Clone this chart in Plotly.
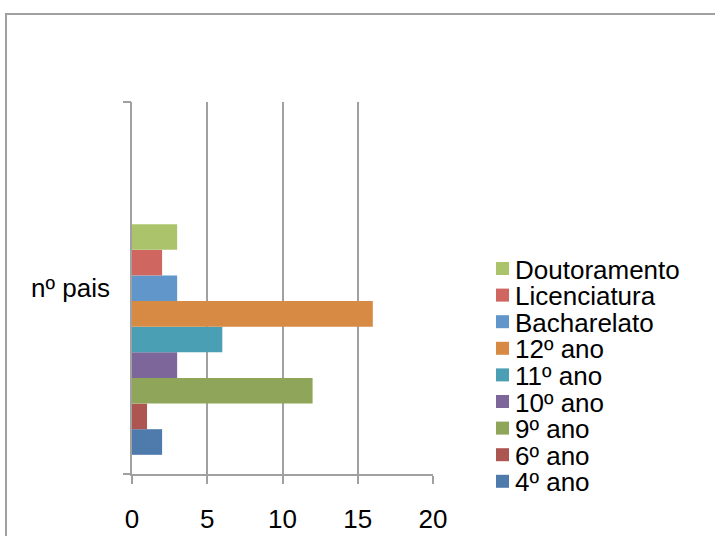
import plotly.graph_objects as go

category = ["nº pais"]
series_names = ["4º ano", "6º ano", "9º ano", "10º ano", "11º ano", "12º ano",
                "Bacharelato", "Licenciatura", "Doutoramento"]
series_values = [2, 1, 12, 3, 6, 16, 3, 2, 3]
series_colors = ["#4F7BAC", "#AD5551", "#8FA65A", "#7D6699", "#4A9FB4",
                 "#D78A44", "#6196CA", "#CF6660", "#ABC46C"]
x_ticks = [0, 5, 10, 15, 20]

FONT = "Liberation Sans, Arial, sans-serif"
FS = 26

fig = go.Figure()
for name, val, col in zip(series_names, series_values, series_colors):
    fig.add_trace(go.Bar(y=category, x=[val], name=name, orientation="h",
                         marker=dict(color=col, line=dict(width=0)),
                         showlegend=False, yaxis="y"))
# invisible trace carrying the category label axis (boundaries ticks)
fig.add_trace(go.Bar(y=category, x=[None], orientation="h", yaxis="y2",
                     showlegend=False, hoverinfo="skip"))

L, R, T, B = 132, 282, 102, 62
W, H = 715, 536
pw, ph = W - L - R, H - T - B


def px_x(px):
    return (px - L) / pw


def px_y(py):
    return (H - B - py) / ph


# bar group sits in lower part of the band, as in the original
grp_center_px = 339.5
lo = -(H - B - grp_center_px) / ph

# manual legend (Excel style: tight spacing), top entry = last series
leg_top = 268.5
leg_step = 26.6
shapes = []
annotations = []
for i, (name, col) in enumerate(zip(reversed(series_names), reversed(series_colors))):
    cy = leg_top + i * leg_step
    shapes.append(dict(type="rect", xref="paper", yref="paper",
                       x0=px_x(496), x1=px_x(509), y0=px_y(cy + 6.5), y1=px_y(cy - 6.5),
                       fillcolor=col, line=dict(width=0)))
    annotations.append(dict(text=name, xref="paper", yref="paper",
                            x=px_x(514), y=px_y(cy + 1), xanchor="left", yanchor="middle",
                            height=24, valign="middle", borderpad=0,
                            showarrow=False, font=dict(family=FONT, size=FS, color="black")))

# outer chart-area border
shapes.append(dict(type="rect", xref="paper", yref="paper",
                   x0=px_x(6), x1=px_x(730), y0=px_y(560), y1=px_y(14),
                   line=dict(color="#A0A0A0", width=2), fillcolor="rgba(0,0,0,0)",
                   layer="below"))

fig.update_layout(
    width=W, height=H,
    margin=dict(l=L, r=R, t=T, b=B, pad=0, autoexpand=False),
    paper_bgcolor="white", plot_bgcolor="white",
    barmode="group", bargap=0.38, bargroupgap=0,
    font=dict(family=FONT, size=FS, color="black"),
    showlegend=False,
    shapes=shapes, annotations=annotations,
    yaxis=dict(type="category", range=[lo, lo + 1], showticklabels=False,
               ticks="", showline=True, linecolor="#A0A0A0", linewidth=2,
               showgrid=False, zeroline=False, automargin=False),
    yaxis2=dict(type="category", overlaying="y", side="left", range=[-0.5, 0.5],
                showline=False, ticks="outside", tickson="boundaries", ticklen=8,
                tickwidth=2, tickcolor="#A0A0A0", showgrid=False,
                tickfont=dict(size=FS), ticklabelstandoff=21, automargin=False),
)
fig.update_xaxes(range=[0, 20], tickvals=x_ticks, showgrid=True,
                 gridcolor="#A0A0A0", gridwidth=2, showline=True,
                 linecolor="#A0A0A0", linewidth=2, ticks="outside",
                 ticklen=8, tickwidth=2, tickcolor="#A0A0A0", zeroline=False,
                 tickfont=dict(size=FS), ticklabelstandoff=13, automargin=False)

fig.write_html("out.html", config={"displayModeBar": False},
               post_script="document.body.style.margin='0';")
